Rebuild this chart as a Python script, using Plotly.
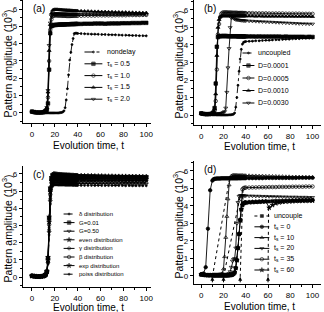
import plotly.graph_objects as go

W, H = 324, 312
FONT = "Liberation Sans, Arial, sans-serif"

# ---------------- shared time grid ----------------
T = [0, 2, 4, 6, 8, 10,
     11, 12, 13, 14, 15, 16, 17, 18, 19, 20,
     21, 22, 23, 24, 25, 26, 27, 28, 29, 30,
     31, 32, 33, 34, 35, 36, 37, 38, 39, 40,
     43, 46, 49, 52, 55, 58, 61, 64, 67, 70,
     73, 76, 79, 82, 85, 88, 91, 94, 97, 100]

X_TICKS = [0, 20, 40, 60, 80, 100]
Y_TICKS = [0, 1, 2, 3, 4, 5, 6]

# ---------------- panel (a) ----------------
A_nondelay = [0.06, 0.04, 0.03, 0.02, 0.02, 0.01,
              0.01, 0.01, 0.00, 0.00, 0.00, 0.00, 0.00, 0.00, 0.00, 0.00,
              0.00, 0.00, 0.00, 0.01, 0.02, 0.03, 0.06, 0.12, 0.30, 0.75,
              1.40, 2.20, 3.05, 3.50, 3.95, 4.30, 4.58, 4.60, 4.60, 4.59,
              4.58, 4.57, 4.56, 4.55, 4.55, 4.54, 4.53, 4.53, 4.52, 4.51,
              4.51, 4.50, 4.49, 4.49, 4.48, 4.47, 4.47, 4.46, 4.46, 4.45]
A_tau05 = [0.08, 0.05, 0.03, 0.03, 0.02, 0.04,
           0.06, 0.10, 0.18, 0.55, 2.50, 4.60, 5.00, 5.05, 5.07, 5.08,
           5.08, 5.09, 5.09, 5.10, 5.10, 5.10, 5.11, 5.11, 5.11, 5.12,
           5.12, 5.12, 5.12, 5.13, 5.13, 5.13, 5.13, 5.14, 5.14, 5.14,
           5.14, 5.15, 5.15, 5.15, 5.16, 5.16, 5.16, 5.15, 5.16, 5.17,
           5.17, 5.17, 5.18, 5.18, 5.18, 5.19, 5.19, 5.19, 5.20, 5.20]
A_tau10 = [0.07, 0.04, 0.02, 0.02, 0.03, 0.05,
           0.08, 0.12, 0.25, 0.90, 3.00, 4.80, 5.40, 5.58, 5.62, 5.63,
           5.63, 5.63, 5.62, 5.62, 5.62, 5.61, 5.61, 5.61, 5.61, 5.60,
           5.60, 5.60, 5.60, 5.60, 5.60, 5.61, 5.61, 5.61, 5.61, 5.61,
           5.61, 5.62, 5.62, 5.62, 5.62, 5.63, 5.63, 5.63, 5.63, 5.63,
           5.64, 5.64, 5.64, 5.64, 5.65, 5.65, 5.65, 5.65, 5.66, 5.66]
A_tau15 = [0.05, 0.03, 0.02, 0.02, 0.03, 0.05,
           0.09, 0.15, 0.30, 1.20, 3.60, 5.10, 5.75, 5.92, 5.96, 5.97,
           5.97, 5.97, 5.96, 5.96, 5.95, 5.95, 5.94, 5.94, 5.93, 5.93,
           5.92, 5.92, 5.92, 5.91, 5.91, 5.90, 5.90, 5.90, 5.89, 5.89,
           5.88, 5.87, 5.87, 5.86, 5.85, 5.85, 5.84, 5.84, 5.83, 5.83,
           5.82, 5.82, 5.81, 5.81, 5.80, 5.80, 5.79, 5.79, 5.78, 5.78]
A_tau20 = [0.06, 0.03, 0.02, 0.02, 0.03, 0.06,
           0.10, 0.16, 0.32, 1.30, 3.90, 5.20, 5.60, 5.70, 5.73, 5.74,
           5.74, 5.74, 5.73, 5.73, 5.73, 5.72, 5.72, 5.72, 5.72, 5.72,
           5.71, 5.71, 5.71, 5.71, 5.71, 5.71, 5.71, 5.70, 5.70, 5.70,
           5.70, 5.71, 5.70, 5.70, 5.69, 5.70, 5.70, 5.69, 5.69, 5.70,
           5.69, 5.69, 5.68, 5.69, 5.69, 5.68, 5.68, 5.68, 5.67, 5.68]

# ---------------- panel (b) ----------------
B_uncoupled = [0.05, 0.03, 0.02, 0.02, 0.01, 0.01,
               0.01, 0.01, 0.01, 0.00, 0.00, 0.00, 0.00, 0.00, 0.00, 0.00,
               0.00, 0.00, 0.00, 0.00, 0.01, 0.01, 0.02, 0.03, 0.05, 0.12,
               0.45, 1.00, 1.70, 2.50, 3.20, 3.75, 4.05, 4.15, 4.18, 4.20,
               4.21, 4.22, 4.24, 4.24, 4.26, 4.27, 4.27, 4.29, 4.30, 4.30,
               4.32, 4.33, 4.33, 4.35, 4.36, 4.36, 4.38, 4.39, 4.39, 4.40]
B_D0001 = [0.10, 0.07, 0.05, 0.05, 0.06, 0.09,
           0.15, 0.40, 1.80, 3.90, 4.45, 4.50, 4.50, 4.51, 4.51, 4.51,
           4.51, 4.51, 4.51, 4.50, 4.50, 4.50, 4.50, 4.50, 4.50, 4.50,
           4.50, 4.50, 4.49, 4.49, 4.50, 4.49, 4.49, 4.49, 4.49, 4.49,
           4.49, 4.49, 4.48, 4.49, 4.48, 4.48, 4.48, 4.48, 4.48, 4.48,
           4.47, 4.48, 4.47, 4.47, 4.47, 4.47, 4.47, 4.46, 4.47, 4.46]
B_D0005 = [0.08, 0.06, 0.05, 0.05, 0.06, 0.10,
           0.14, 0.25, 0.80, 2.60, 4.60, 5.20, 5.60, 5.78, 5.84, 5.86,
           5.86, 5.86, 5.86, 5.85, 5.85, 5.85, 5.85, 5.84, 5.84, 5.84,
           5.84, 5.84, 5.83, 5.83, 5.83, 5.83, 5.83, 5.82, 5.82, 5.82,
           5.82, 5.82, 5.81, 5.81, 5.81, 5.81, 5.80, 5.80, 5.80, 5.80,
           5.80, 5.79, 5.79, 5.79, 5.79, 5.79, 5.78, 5.78, 5.78, 5.78]
B_D0010 = [0.09, 0.06, 0.05, 0.05, 0.06, 0.10,
           0.16, 0.35, 1.20, 3.40, 5.00, 5.45, 5.60, 5.65, 5.66, 5.66,
           5.66, 5.66, 5.66, 5.66, 5.66, 5.66, 5.66, 5.66, 5.65, 5.66,
           5.65, 5.65, 5.65, 5.65, 5.65, 5.65, 5.65, 5.65, 5.65, 5.65,
           5.65, 5.65, 5.64, 5.65, 5.64, 5.64, 5.64, 5.64, 5.64, 5.64,
           5.64, 5.63, 5.64, 5.63, 5.63, 5.63, 5.63, 5.63, 5.63, 5.62]
B_D0030 = [0.07, 0.05, 0.04, 0.04, 0.05, 0.05,
           0.06, 0.06, 0.07, 0.07, 0.08, 0.08, 0.09, 0.10, 0.12, 0.15,
           0.20, 0.40, 1.30, 2.70, 3.80, 5.00, 5.55, 5.60, 5.52, 5.48,
           5.45, 5.44, 5.43, 5.42, 5.41, 5.40, 5.40, 5.39, 5.39, 5.38,
           5.37, 5.36, 5.35, 5.34, 5.33, 5.32, 5.31, 5.30, 5.29, 5.28,
           5.27, 5.26, 5.25, 5.24, 5.23, 5.22, 5.21, 5.21, 5.20, 5.20]

# ---------------- panel (c) ----------------
C_delta = [0.06, 0.04, 0.03, 0.02, 0.03, 0.05,
           0.08, 0.13, 0.28, 0.90, 2.90, 4.70, 5.40, 5.58, 5.63, 5.64,
           5.64, 5.63, 5.63, 5.63, 5.62, 5.62, 5.62, 5.62, 5.62, 5.61,
           5.61, 5.61, 5.61, 5.61, 5.61, 5.61, 5.61, 5.61, 5.60, 5.60,
           5.60, 5.61, 5.60, 5.60, 5.60, 5.61, 5.60, 5.60, 5.60, 5.60,
           5.61, 5.60, 5.60, 5.60, 5.61, 5.60, 5.60, 5.61, 5.60, 5.60]
C_G001 = [0.07, 0.05, 0.03, 0.03, 0.04, 0.06,
          0.09, 0.15, 0.32, 1.10, 3.40, 5.10, 5.70, 5.88, 5.92, 5.93,
          5.93, 5.92, 5.92, 5.91, 5.91, 5.90, 5.90, 5.90, 5.89, 5.89,
          5.89, 5.88, 5.88, 5.88, 5.88, 5.87, 5.87, 5.87, 5.87, 5.86,
          5.86, 5.86, 5.85, 5.85, 5.85, 5.84, 5.84, 5.84, 5.83, 5.83,
          5.83, 5.83, 5.82, 5.82, 5.82, 5.82, 5.81, 5.81, 5.81, 5.81]
C_G050 = [0.05, 0.04, 0.02, 0.02, 0.03, 0.05,
          0.07, 0.12, 0.25, 0.80, 2.60, 4.40, 5.20, 5.40, 5.45, 5.46,
          5.46, 5.46, 5.45, 5.45, 5.45, 5.45, 5.45, 5.44, 5.44, 5.44,
          5.44, 5.44, 5.44, 5.44, 5.43, 5.44, 5.43, 5.43, 5.43, 5.43,
          5.43, 5.43, 5.43, 5.42, 5.43, 5.42, 5.42, 5.42, 5.42, 5.42,
          5.42, 5.41, 5.42, 5.41, 5.41, 5.41, 5.41, 5.41, 5.40, 5.41]
C_even = [0.06, 0.04, 0.03, 0.03, 0.03, 0.05,
          0.08, 0.14, 0.30, 1.00, 3.20, 4.95, 5.60, 5.76, 5.80, 5.80,
          5.79, 5.79, 5.78, 5.78, 5.78, 5.77, 5.77, 5.77, 5.77, 5.76,
          5.76, 5.76, 5.76, 5.76, 5.75, 5.75, 5.75, 5.75, 5.75, 5.75,
          5.74, 5.74, 5.74, 5.74, 5.74, 5.73, 5.73, 5.73, 5.73, 5.73,
          5.73, 5.72, 5.72, 5.72, 5.72, 5.72, 5.72, 5.71, 5.71, 5.71]
C_gamma = [0.05, 0.03, 0.02, 0.02, 0.03, 0.05,
           0.07, 0.12, 0.26, 0.85, 2.75, 4.55, 5.30, 5.50, 5.55, 5.56,
           5.56, 5.55, 5.55, 5.55, 5.55, 5.54, 5.54, 5.54, 5.54, 5.54,
           5.54, 5.53, 5.53, 5.53, 5.53, 5.53, 5.53, 5.53, 5.52, 5.52,
           5.52, 5.52, 5.52, 5.52, 5.51, 5.52, 5.51, 5.51, 5.51, 5.51,
           5.51, 5.51, 5.50, 5.51, 5.50, 5.50, 5.50, 5.50, 5.50, 5.50]
C_beta = [0.06, 0.04, 0.03, 0.02, 0.03, 0.05,
          0.08, 0.13, 0.29, 0.95, 3.05, 4.80, 5.48, 5.65, 5.70, 5.71,
          5.71, 5.70, 5.70, 5.70, 5.69, 5.69, 5.69, 5.69, 5.69, 5.68,
          5.68, 5.68, 5.68, 5.68, 5.68, 5.68, 5.67, 5.67, 5.67, 5.67,
          5.67, 5.67, 5.66, 5.66, 5.66, 5.66, 5.66, 5.66, 5.66, 5.65,
          5.65, 5.65, 5.65, 5.65, 5.65, 5.65, 5.64, 5.64, 5.64, 5.64]
C_exp = [0.07, 0.05, 0.04, 0.03, 0.04, 0.06,
         0.10, 0.16, 0.34, 1.15, 3.50, 5.20, 5.80, 5.96, 6.00, 6.00,
         5.99, 5.98, 5.97, 5.97, 5.96, 5.96, 5.95, 5.95, 5.94, 5.94,
         5.93, 5.93, 5.93, 5.92, 5.92, 5.92, 5.91, 5.91, 5.91, 5.90,
         5.90, 5.89, 5.89, 5.89, 5.88, 5.88, 5.88, 5.87, 5.87, 5.87,
         5.86, 5.86, 5.86, 5.86, 5.85, 5.85, 5.85, 5.85, 5.84, 5.84]
C_poiss = [0.05, 0.03, 0.02, 0.02, 0.02, 0.04,
           0.06, 0.11, 0.23, 0.75, 2.45, 4.25, 5.10, 5.30, 5.35, 5.36,
           5.36, 5.36, 5.35, 5.35, 5.35, 5.35, 5.35, 5.35, 5.34, 5.34,
           5.34, 5.34, 5.34, 5.34, 5.34, 5.33, 5.34, 5.33, 5.33, 5.33,
           5.33, 5.33, 5.33, 5.33, 5.32, 5.33, 5.32, 5.32, 5.32, 5.32,
           5.32, 5.32, 5.32, 5.31, 5.32, 5.31, 5.31, 5.31, 5.31, 5.31]

# ---------------- panel (d) ----------------
D_uncouple = [0.08, 0.06, 0.05, 0.04, 0.04, 0.04,
              0.04, 0.04, 0.04, 0.04, 0.04, 0.04, 0.04, 0.04, 0.04, 0.04,
              0.04, 0.04, 0.04, 0.04, 0.05, 0.05, 0.06, 0.08, 0.12, 0.20,
              0.45, 0.90, 1.60, 2.40, 3.20, 3.80, 4.05, 4.15, 4.18, 4.20,
              4.21, 4.22, 4.23, 4.24, 4.25, 4.26, 4.26, 4.27, 4.28, 4.28,
              4.29, 4.30, 4.30, 4.31, 4.31, 4.32, 4.32, 4.33, 4.33, 4.34]
D_ts0 = [0.10, 0.14, 0.50, 2.70, 4.90, 5.45,
         5.52, 5.55, 5.56, 5.57, 5.57, 5.57, 5.57, 5.58, 5.58, 5.58,
         5.58, 5.58, 5.58, 5.58, 5.58, 5.58, 5.58, 5.58, 5.58, 5.58,
         5.58, 5.58, 5.58, 5.59, 5.58, 5.59, 5.59, 5.59, 5.59, 5.59,
         5.59, 5.59, 5.59, 5.59, 5.59, 5.60, 5.60, 5.60, 5.60, 5.60,
         5.60, 5.60, 5.60, 5.60, 5.60, 5.61, 5.61, 5.61, 5.61, 5.61]
D_ts10 = [0.08, 0.06, 0.05, 0.04, 0.04, 0.05,
          0.05, 0.05, 0.06, 0.06, 0.07, 0.08, 0.09, 0.10, 0.15, 0.40,
          1.10, 2.20, 3.40, 4.40, 5.20, 5.60, 5.72, 5.75, 5.76, 5.76,
          5.76, 5.76, 5.75, 5.75, 5.75, 5.75, 5.75, 5.74, 5.74, 5.74,
          5.74, 5.73, 5.73, 5.72, 5.72, 5.71, 5.71, 5.70, 5.70, 5.69,
          5.69, 5.68, 5.68, 5.67, 5.67, 5.66, 5.66, 5.65, 5.65, 5.65]
D_ts20 = [0.08, 0.06, 0.05, 0.04, 0.04, 0.04,
          0.04, 0.04, 0.04, 0.04, 0.04, 0.04, 0.04, 0.04, 0.04, 0.04,
          0.05, 0.06, 0.08, 0.10, 0.14, 0.25, 0.50, 0.85, 0.95, 1.00,
          1.60, 3.00, 4.20, 4.55, 4.60, 4.60, 4.59, 4.59, 4.58, 4.58,
          4.57, 4.57, 4.56, 4.56, 4.55, 4.55, 4.54, 4.54, 4.53, 4.53,
          4.52, 4.52, 4.51, 4.51, 4.51, 4.50, 4.50, 4.50, 4.49, 4.49]
D_ts35 = [0.08, 0.06, 0.05, 0.04, 0.04, 0.04,
          0.04, 0.04, 0.04, 0.04, 0.04, 0.04, 0.04, 0.04, 0.04, 0.04,
          0.04, 0.04, 0.04, 0.04, 0.05, 0.05, 0.06, 0.08, 0.12, 0.20,
          0.45, 0.90, 1.60, 2.40, 3.20, 4.40, 4.95, 5.02, 5.04, 5.05,
          5.05, 5.06, 5.06, 5.07, 5.07, 5.07, 5.08, 5.08, 5.08, 5.09,
          5.09, 5.09, 5.09, 5.10, 5.10, 5.10, 5.10, 5.11, 5.11, 5.11]
D_ts60 = [0.08, 0.06, 0.05, 0.04, 0.04, 0.04,
          0.04, 0.04, 0.04, 0.04, 0.04, 0.04, 0.04, 0.04, 0.04, 0.04,
          0.04, 0.04, 0.04, 0.04, 0.05, 0.05, 0.06, 0.08, 0.12, 0.20,
          0.45, 0.90, 1.60, 2.40, 3.20, 3.80, 4.05, 4.15, 4.18, 4.20,
          4.21, 4.22, 4.23, 4.24, 4.25, 4.26, 3.90, 4.05, 4.15, 4.20,
          4.23, 4.25, 4.26, 4.27, 4.28, 4.28, 4.29, 4.29, 4.30, 4.30]
# switching times (arrows) and where their dotted guide lines meet the curves
D_switch_times = [10, 20, 35, 60]
D_guide_end_t = [25.5, 35.0, 37.5, 60.5]
D_guide_end_v = [5.60, 4.55, 4.95, 3.95]

# ---------------- series definitions ----------------
PANELS = [
    dict(key="a", label="(a)", series=[
        ("nondelay", A_nondelay, "circle", 2, "dashdot"),
        ("τ<sub>s</sub> = 0.5", A_tau05, "square", 3.5, "solid"),
        ("τ<sub>s</sub> = 1.0", A_tau10, "circle-open", 3.5, "solid"),
        ("τ<sub>s</sub> = 1.5", A_tau15, "triangle-up", 3.5, "solid"),
        ("τ<sub>s</sub> = 2.0", A_tau20, "triangle-down-open", 3.5, "solid"),
    ]),
    dict(key="b", label="(b)", series=[
        ("uncoupled", B_uncoupled, "circle", 2, "dashdot"),
        ("D=0.0001", B_D0001, "square", 3.5, "solid"),
        ("D=0.0005", B_D0005, "circle-open", 3.5, "solid"),
        ("D=0.0010", B_D0010, "triangle-up", 3.5, "solid"),
        ("D=0.0030", B_D0030, "triangle-down-open", 3.5, "solid"),
    ]),
    dict(key="c", label="(c)", series=[
        ("δ distribution", C_delta, "circle", 2, "dashdot"),
        ("G=0.01", C_G001, "square", 3.5, "solid"),
        ("G=0.50", C_G050, "triangle-down-open", 3.5, "solid"),
        ("even distribution", C_even, "star", 3.5, "solid"),
        ("γ distribution", C_gamma, "circle-open", 3, "solid"),
        ("β distribution", C_beta, "circle-open", 3.5, "solid"),
        ("exp distribution", C_exp, "star", 3.5, "solid"),
        ("poiss distribution", C_poiss, "circle", 2, "dashdot"),
    ]),
    dict(key="d", label="(d)", series=[
        ("uncouple", D_uncouple, "square", 3, "dot"),
        ("t<sub>s</sub> = 0", D_ts0, "circle", 3.5, "solid"),
        ("t<sub>s</sub> = 10", D_ts10, "triangle-up-open", 3.5, "solid"),
        ("t<sub>s</sub> = 20", D_ts20, "triangle-down-open", 3.5, "solid"),
        ("t<sub>s</sub> = 35", D_ts35, "circle-open", 3.5, "solid"),
        ("t<sub>s</sub> = 60", D_ts60, "star", 3.5, "solid"),
    ]),
]

# ---------------- layout geometry (pixels) ----------------
GEOM = {
    "a": dict(x=(23, 152), y=(0, 123), xr=(-8, 104.2), yr=(-0.58, 6.52), xt=145),
    "b": dict(x=(195, 323), y=(0, 125), xr=(-6.7, 107.6), yr=(-0.57, 6.57), xt=146),
    "c": dict(x=(23, 152), y=(166, 287), xr=(-8, 104.2), yr=(-0.58, 6.46), xt=307.5),
    "d": dict(x=(195, 323), y=(161, 284), xr=(-6.7, 107.6), yr=(-0.46, 6.57), xt=306),
}
LEG = {
    "a": dict(x0=85, x1=103, xt=106, y0=52, dy=11.8, fs=7),
    "b": dict(x0=244, x1=256, xt=258, y0=53, dy=12.5, fs=7),
    "c": dict(x0=64, x1=75, xt=77, y0=214, dy=8.6, fs=6),
    "d": dict(x0=256, x1=271, xt=274, y0=216, dy=10.8, fs=7),
}


def px2paper_x(px):
    return px / W


def px2paper_y(py):
    return 1 - py / H


fig = go.Figure()
layout = dict(width=W, height=H, margin=dict(l=0, r=0, t=0, b=0),
              paper_bgcolor="white", plot_bgcolor="rgba(0,0,0,0)", showlegend=False,
              hovermode=False, font=dict(family=FONT, color="black"))
annotations = []

for i, p in enumerate(PANELS):
    n = i + 1
    g = GEOM[p["key"]]
    xa = "x" if n == 1 else f"x{n}"
    ya = "y" if n == 1 else f"y{n}"
    for name, vals, sym, sz, dash in p["series"]:
        fig.add_trace(go.Scatter(
            x=T, y=vals, xaxis=xa, yaxis=ya, mode="lines+markers", name=name,
            line=dict(color="black", width=0.9, dash=dash),
            marker=dict(symbol=sym, size=sz, color="black",
                        line=dict(color="black", width=0.7)),
        ))
    common = dict(showline=True, linecolor="black", linewidth=1, ticks="outside",
                  ticklen=3, tickwidth=1, tickcolor="black", showgrid=False,
                  zeroline=False, tickfont=dict(size=8, family=FONT, color="black"))
    layout[f"xaxis{'' if n == 1 else n}"] = dict(
        common, domain=[px2paper_x(g["x"][0]), px2paper_x(g["x"][1])],
        range=list(g["xr"]), tickvals=X_TICKS, anchor=ya,
        minor=dict(ticks="outside", ticklen=2, tickcolor="black", tick0=0, dtick=10))
    layout[f"yaxis{'' if n == 1 else n}"] = dict(
        common, domain=[px2paper_y(g["y"][1]), px2paper_y(g["y"][0])],
        range=list(g["yr"]), tickvals=Y_TICKS, anchor=xa,
        minor=dict(ticks="outside", ticklen=2, tickcolor="black", tick0=0, dtick=0.5))
    # axis titles
    cx = (g["x"][0] + g["x"][1]) / 2 + 2
    annotations.append(dict(text="Evolution time, t", xref="paper", yref="paper",
                            x=px2paper_x(cx), y=px2paper_y(g["xt"]),
                            showarrow=False, xanchor="center", yanchor="middle",
                            font=dict(size=10, family=FONT)))
    cy = (g["y"][0] + g["y"][1]) / 2 + 2
    annotations.append(dict(text="Pattern amplitude (10<sup>3</sup>)", xref="paper",
                            yref="paper", x=px2paper_x(g["x"][0] - 16),
                            y=px2paper_y(cy), textangle=-90, showarrow=False,
                            xanchor="center", yanchor="middle",
                            font=dict(size=10.5, family=FONT)))
    # panel label
    annotations.append(dict(text=p["label"], xref="paper", yref="paper",
                            x=px2paper_x(g["x"][0] + 8), y=px2paper_y(g["y"][0] + 8),
                            showarrow=False, xanchor="left", yanchor="middle",
                            font=dict(size=10, family=FONT)))
    # manual legend
    L = LEG[p["key"]]
    for j, (name, vals, sym, sz, dash) in enumerate(p["series"]):
        yy = L["y0"] + j * L["dy"]
        fig.add_trace(go.Scatter(
            x=[L["x0"], (L["x0"] + L["x1"]) / 2, L["x1"]], y=[yy, yy, yy],
            xaxis="x5", yaxis="y5", mode="lines+markers",
            line=dict(color="black", width=1, dash=dash),
            marker=dict(symbol=sym, size=[0, sz, 0], color="black",
                        line=dict(color="black", width=0.8)),
            hoverinfo="skip"))
        annotations.append(dict(text=name, xref="paper", yref="paper",
                                x=px2paper_x(L["xt"]), y=px2paper_y(yy),
                                showarrow=False, xanchor="left", yanchor="middle",
                                font=dict(size=L["fs"], family=FONT, color="black")))

# switch-time arrows and dotted guides in (d)
for ts, te, ve in zip(D_switch_times, D_guide_end_t, D_guide_end_v):
    annotations.append(dict(x=ts, y=-0.05, xref="x4", yref="y4", ax=0, ay=7,
                            text="", showarrow=True, arrowhead=2, arrowsize=0.8,
                            arrowwidth=1, arrowcolor="black"))
    fig.add_trace(go.Scatter(x=[ts, te], y=[-0.05, ve], xaxis="x4", yaxis="y4",
                             mode="lines", line=dict(color="black", width=1, dash="dot"),
                             hoverinfo="skip"))

layout["xaxis5"] = dict(domain=[0, 1], range=[0, W], visible=False, anchor="y5",
                        fixedrange=True)
layout["yaxis5"] = dict(domain=[0, 1], range=[H, 0], visible=False, anchor="x5",
                        fixedrange=True)
layout["annotations"] = annotations
fig.update_layout(**layout)
fig.write_html("out.html",
               config={"displayModeBar": False, "staticPlot": True},
               post_script="document.body.style.margin='0';"
                           "document.body.style.overflow='hidden';")
